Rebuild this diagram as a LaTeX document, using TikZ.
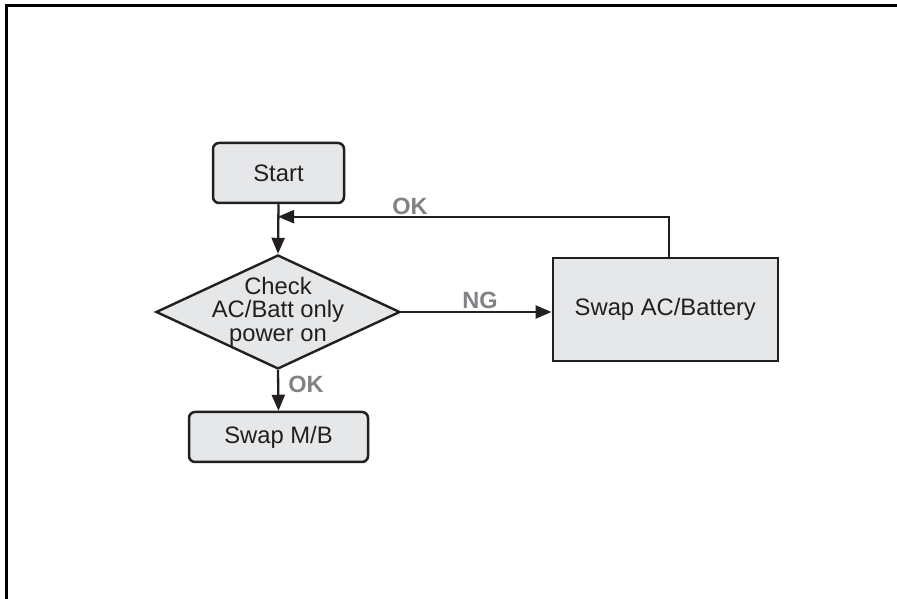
\documentclass[tikz,border=0pt]{standalone}
\usepackage{fontspec}
\setmainfont{Liberation Sans}
\usetikzlibrary{arrows.meta,shapes.geometric,calc}
\definecolor{boxfill}{HTML}{E6E7E8}
\definecolor{ink}{HTML}{231F20}
\definecolor{lblgray}{HTML}{808285}
\begin{document}
\begin{tikzpicture}[x=1pt,y=1pt,
  every node/.style={font=\fontsize{23.8}{23.5}\selectfont, text=ink},
  roundbox/.style={draw=ink, line width=2.5pt, fill=boxfill, rounded corners=6pt, inner sep=0pt},
  sqbox/.style={draw=ink, line width=2.5pt, fill=boxfill, inner sep=0pt},
  dia/.style={diamond, draw=ink, line width=2.4pt, fill=boxfill, inner sep=0pt, minimum width=244pt, minimum height=114pt},
  conn/.style={draw=ink, line width=2.3pt},
  arr/.style={conn, -{Triangle[length=16pt,width=13pt]}},
  lbl/.style={font=\bfseries\fontsize{23.5}{23.5}\selectfont, text=lblgray}
]
\useasboundingbox (0,0) rectangle (897,599);
\fill[white] (0,0) rectangle (897,599);
% frame (top and left only)
\draw[black, line width=3pt] (6,0) -- (6,593) -- (897,593);

\node[roundbox, minimum width=131pt, minimum height=60pt] (start) at (278.5,426) {Start};
\node[dia] (check) at (278,287) {};
\node[align=center, inner sep=0pt] (checktxt) at (278,287.5) {Check\\AC/Batt only\\power on};
\node[roundbox, minimum width=179pt, minimum height=50pt] (swapmb) at (278.5,162) {Swap M/B};
\node[sqbox, minimum width=225pt, minimum height=103pt] (swapac) at (665.3,289.5) {Swap AC/Battery};

\coordinate (join) at (278,382.3);
\coordinate (up) at ($(swapac.north)+(3.4,0)$);

\draw[arr] (start.south) -- (check.north);
\draw[arr] (up) |- (join);
\draw[arr] (check.east) -- (swapac.west |- check.east);
\draw[arr] (check.south) -- (swapmb.north);

\node[lbl] (okTop) at (410,393) {OK};
\node[lbl] (ng) at (480,299) {NG};
\node[lbl] (okBot) at (306,215) {OK};
\end{tikzpicture}
\end{document}
